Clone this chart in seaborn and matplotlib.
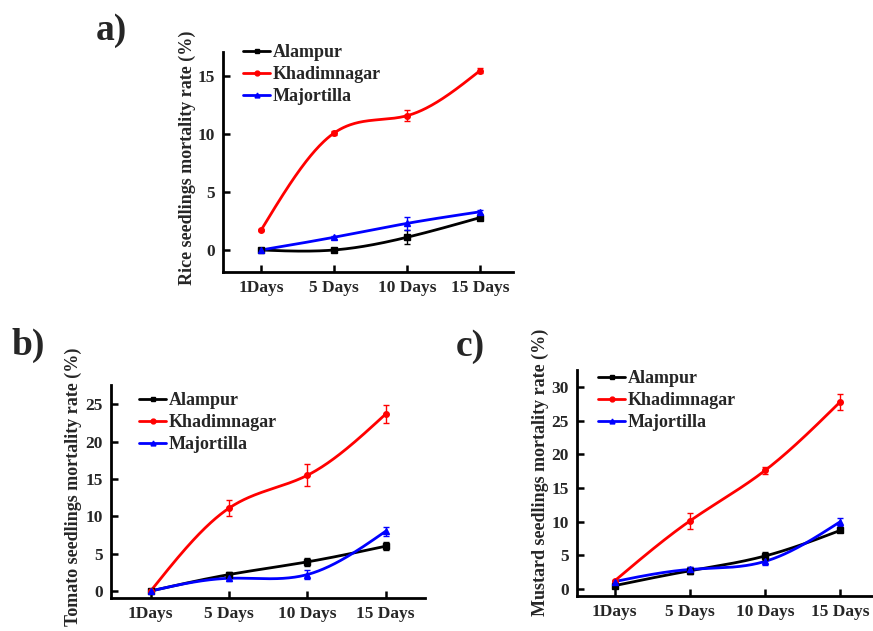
import numpy as np
import pandas as pd
import matplotlib
matplotlib.use("Agg")
import matplotlib.pyplot as plt
import seaborn as sns
from matplotlib.lines import Line2D

# ---------------- data ----------------
days = ["1Days", "5 Days", "10 Days", "15 Days"]
series = ["Alampur", "Khadimnagar", "Majortilla"]

rice_alampur = [0.0, 0.0, 1.1, 2.8]
rice_alampur_err = [0.05, 0.1, 0.6, 0.1]
rice_khadim = [1.7, 10.1, 11.6, 15.5]
rice_khadim_err = [0.1, 0.2, 0.5, 0.2]
rice_major = [0.0, 1.1, 2.3, 3.3]
rice_major_err = [0.05, 0.15, 0.55, 0.15]

tomato_alampur = [0.0, 2.2, 3.9, 6.0]
tomato_alampur_err = [0.1, 0.3, 0.5, 0.5]
tomato_khadim = [0.0, 11.1, 15.5, 23.7]
tomato_khadim_err = [0.1, 1.1, 1.5, 1.2]
tomato_major = [0.0, 1.7, 2.2, 8.0]
tomato_major_err = [0.1, 0.4, 0.6, 0.6]

mustard_alampur = [0.5, 2.7, 4.9, 8.7]
mustard_alampur_err = [0.1, 0.5, 0.6, 0.2]
mustard_khadim = [1.2, 10.1, 17.6, 27.8]
mustard_khadim_err = [0.1, 1.2, 0.5, 1.2]
mustard_major = [1.1, 2.9, 4.1, 10.0]
mustard_major_err = [0.1, 0.4, 0.6, 0.6]

colors = {"Alampur": "#000000", "Khadimnagar": "#ff0000", "Majortilla": "#0000ff"}
markers = {"Alampur": "s", "Khadimnagar": "o", "Majortilla": "^"}

# ---------------- helpers ----------------
def natural_spline(y, n=200):
    y = np.asarray(y, float)
    k = len(y)
    A = np.zeros((k, k)); b = np.zeros(k)
    A[0, 0] = 1; A[-1, -1] = 1
    for i in range(1, k - 1):
        A[i, i - 1] = 1; A[i, i] = 4; A[i, i + 1] = 1
        b[i] = 6 * (y[i - 1] - 2 * y[i] + y[i + 1])
    M = np.linalg.solve(A, b)
    xs = np.linspace(0, k - 1, n)
    ys = np.empty_like(xs)
    for j, xv in enumerate(xs):
        i = min(int(np.floor(xv)), k - 2)
        t = xv - i
        ys[j] = (M[i] * (1 - t) ** 3 / 6 + M[i + 1] * t ** 3 / 6
                 + (y[i] - M[i] / 6) * (1 - t) + (y[i + 1] - M[i + 1] / 6) * t)
    return xs, ys

sns.set_style("white")
plt.rcParams["font.family"] = ["Liberation Serif", "DejaVu Serif"]
plt.rcParams["font.weight"] = "bold"

W, H = 873, 631
fig = plt.figure(figsize=(W / 100, H / 100), dpi=100)

def px_axes(left, top, right, bottom):
    return fig.add_axes([left / W, 1 - bottom / H, (right - left) / W, (bottom - top) / H])

def draw_panel(ax, data, ylim, yticks, xlim):
    for name, (vals, errs) in data.items():
        xs, ys = natural_spline(vals)
        sns.lineplot(x=xs, y=ys, ax=ax, color=colors[name], lw=2.0, legend=False)
        ax.errorbar(np.arange(len(vals)), vals, yerr=errs, fmt=markers[name],
                    color=colors[name], ms=4.0, elinewidth=1.0, capsize=2.5,
                    capthick=1.0, zorder=5)
    ax.set_xlim(*xlim)
    ax.set_ylim(*ylim)
    ax.set_xticks(range(len(days)))
    ax.set_xticklabels(days)
    ax.set_yticks(yticks)
    ax.set_yticklabels([str(t) for t in yticks])
    for s in ["top", "right"]:
        ax.spines[s].set_visible(False)
    for s in ["left", "bottom"]:
        ax.spines[s].set_linewidth(2.0)
        ax.spines[s].set_color("black")
    ax.tick_params(direction="in", length=5, width=1.8, labelsize=12.5, pad=6,
                   bottom=True, left=True, top=False, right=False, color="black")
    for lab in ax.get_xticklabels() + ax.get_yticklabels():
        lab.set_fontweight("bold")
    ax.set_facecolor("white")
    ax.grid(False)
    handles = [Line2D([0], [0], color=colors[n], lw=2.0, marker=markers[n], ms=3.5)
               for n in series]
    leg = ax.legend(handles, series, loc="upper left", frameon=False,
                    prop={"weight": "bold", "size": 13}, handlelength=1.5,
                    handletextpad=0.15, labelspacing=0.28, borderaxespad=0.0)
    return leg

# Panel a
axa = px_axes(223, 52, 513, 272)
draw_panel(axa, {"Alampur": (rice_alampur, rice_alampur_err),
                 "Khadimnagar": (rice_khadim, rice_khadim_err),
                 "Majortilla": (rice_major, rice_major_err)},
           (-1.9, 17.1), [0, 5, 10, 15], (-0.52, 3.45))
axa.legend_.set_bbox_to_anchor((236 / W, 1 - 37 / H), transform=fig.transFigure)

# Panel b
axb = px_axes(111, 385, 425, 598)
draw_panel(axb, {"Alampur": (tomato_alampur, tomato_alampur_err),
                 "Khadimnagar": (tomato_khadim, tomato_khadim_err),
                 "Majortilla": (tomato_major, tomato_major_err)},
           (-0.94, 27.6), [0, 5, 10, 15, 20, 25], (-0.507, 3.503))
axb.legend_.set_bbox_to_anchor((132 / W, 1 - 385 / H), transform=fig.transFigure)

# Panel c
axc = px_axes(577, 370, 878, 596)
draw_panel(axc, {"Alampur": (mustard_alampur, mustard_alampur_err),
                 "Khadimnagar": (mustard_khadim, mustard_khadim_err),
                 "Majortilla": (mustard_major, mustard_major_err)},
           (-1.04, 32.5), [0, 5, 10, 15, 20, 25, 30], (-0.5, 3.5))
axc.legend_.set_bbox_to_anchor((591 / W, 1 - 363 / H), transform=fig.transFigure)

# y labels
fig.text(187 / W, 1 - 158 / H, "Rice seedlings mortality rate (%)", rotation=90,
         ha="center", va="center", fontsize=13, fontweight="bold")
fig.text(73 / W, 1 - 487 / H, "Tomato seedlings mortality rate (%)", rotation=90,
         ha="center", va="center", fontsize=13, fontweight="bold")
fig.text(540 / W, 1 - 472 / H, "Mustard seedlings mortality rate (%)", rotation=90,
         ha="center", va="center", fontsize=13, fontweight="bold")

# panel letters
fig.text(96 / W, 1 - 30 / H, "a)", ha="left", va="center", fontsize=27, fontweight="bold")
fig.text(11 / W, 1 - 345 / H, "b)", ha="left", va="center", fontsize=27, fontweight="bold")
fig.text(456 / W, 1 - 347 / H, "c)", ha="left", va="center", fontsize=27, fontweight="bold")

fig.savefig("out.png", dpi=100, facecolor="white")
